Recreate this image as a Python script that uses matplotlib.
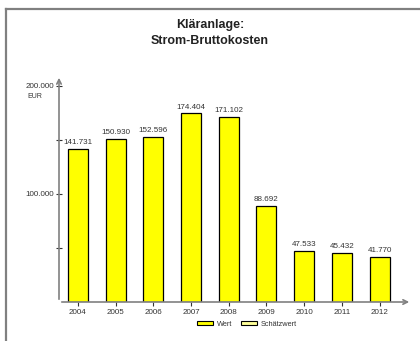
import matplotlib.pyplot as plt
from matplotlib.lines import Line2D
from matplotlib.patches import Patch

plt.rcParams["font.family"] = ["Liberation Sans", "DejaVu Sans"]

years = ["2004", "2005", "2006", "2007", "2008", "2009", "2010", "2011", "2012"]
costs = [141731, 150930, 152596, 174404, 171102, 88692, 47533, 45432, 41770]
y_ticks = [50000, 100000, 150000, 200000]
y_tick_labels = ["", "100.000", "", "200.000"]

grey = "#808080"
text_col = "#333333"

fig = plt.figure(figsize=(4.2, 3.41), dpi=100)
ax = fig.add_axes([59 / 420, 1 - 302 / 341, (412 - 59) / 420, (302 - 75) / 341])

x = list(range(len(years)))
ax.bar(x, costs, width=0.53, color="#ffff00", edgecolor="black", linewidth=0.9, zorder=3)

for xi, v in zip(x, costs):
    label = f"{v:,}".replace(",", ".")
    ax.text(xi, v + 2500, label, ha="center", va="bottom", fontsize=5.8, color=text_col)

ax.set_xlim(-0.5, 8.86)
ax.set_ylim(0, 210000)

for s in ax.spines.values():
    s.set_visible(False)

# axes with arrows
ax.annotate("", xy=(0, 1.0), xytext=(0, 0), xycoords="axes fraction",
            arrowprops=dict(arrowstyle="->", color=grey, lw=1.2, mutation_scale=8))
ax.annotate("", xy=(1.0, 0), xytext=(0, 0), xycoords="axes fraction",
            arrowprops=dict(arrowstyle="->", color=grey, lw=1.2, mutation_scale=8))

ax.set_xticks(x)
ax.set_xticklabels(years, fontsize=5.8, color=text_col)
ax.tick_params(axis="x", length=3, width=0.8, color="#333333", pad=2)
ax.set_yticks(y_ticks)
ax.set_yticklabels(y_tick_labels, fontsize=5.8, color=text_col)
ax.tick_params(axis="y", direction="inout", length=5, width=0.8, color="#333333", pad=1)

ax.text(-0.068, 0.905, "EUR", transform=ax.transAxes, ha="center", va="center",
        fontsize=5, color=text_col)

fig.text(0.5, 1 - 25 / 341, "Kläranlage:", ha="center", va="center",
         fontsize=9, fontweight="bold", color="#222222")
fig.text(0.5, 1 - 41 / 341, "Strom-Bruttokosten", ha="center", va="center",
         fontsize=9, fontweight="bold", color="#222222")

handles = [Patch(facecolor="#ffff00", edgecolor="black", linewidth=0.8),
           Patch(facecolor="#ffff99", edgecolor="black", linewidth=0.8)]
fig.legend(handles, ["Wert", "Schätzwert"], loc="center", bbox_to_anchor=(247 / 420, 1 - 324 / 341),
           ncol=2, frameon=False, fontsize=5.3, handlelength=2.2, handleheight=0.6,
           columnspacing=1.2, handletextpad=0.5, labelcolor=text_col)

# outer frame (top and left only)
fig.add_artist(Line2D([5.5 / 420, 5.5 / 420], [0, 1 - 8.5 / 341], color=grey, lw=1.6,
                      transform=fig.transFigure))
fig.add_artist(Line2D([5.5 / 420, 1], [1 - 8.5 / 341, 1 - 8.5 / 341], color=grey, lw=1.6,
                      transform=fig.transFigure))

fig.savefig("out.png", dpi=100)
